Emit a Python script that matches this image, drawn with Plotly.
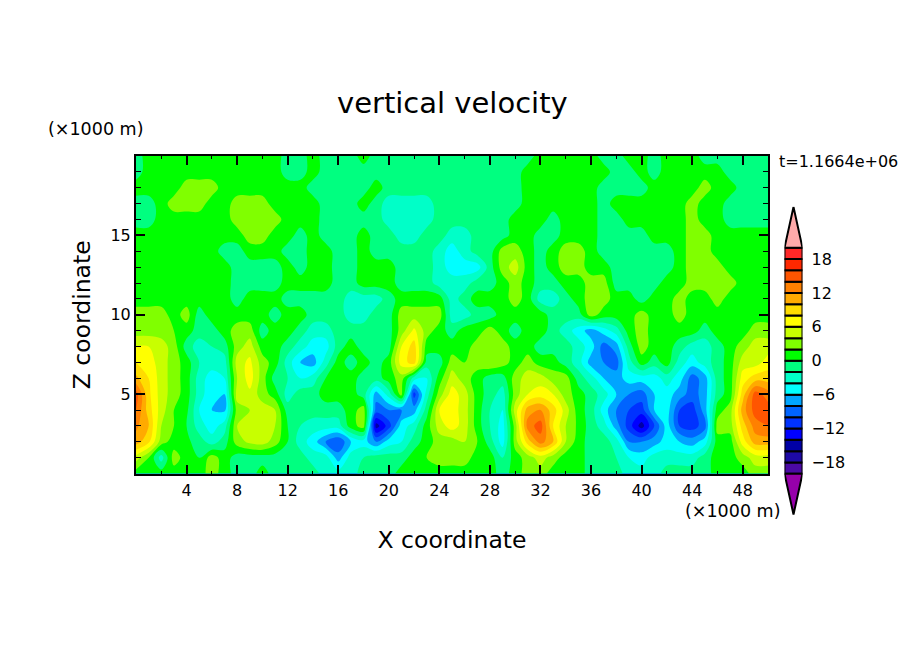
import plotly.graph_objects as go

W, H = 904, 654
x_km = list(range(0,51))
z_km = list(range(0,21))

w_00 = [1,1,1,1,1,1,3,1,-1,-1,1,-1,-1,-1,-1,-3,-3,-3,-1,-1,-1,1,1,1,1, 1,1,1,1,-1,1,3,3,1,1,1,-1,-1,-1,-3,-3,-3,-1,-1,-1,-1,1,1,1,3,3]
w_01 = [5,2,-3,3,1,0,3,1,-1,-1,-1,-1,-1,-1,-3,-3,-7,-3,-2,-1,-1,-1,1,2,3, 3,3,1,1,-2,1,3,5,3,1,1,-1,-1,-2,-4,-5,-3,-3,-3,-3,-1,1,1,3,5,5]
w_02 = [11,8.5,3,1,0.5,-1,-3,-1,3,4.5,5,3,0,-3,-5,-8,-10,-6,-5,-8,-5,-4,-1,1,3, 3,4,2,-1,-5,3,9,13,10,4,1,-1,-1,-3,-8,-8,-7,-5,-6,-7,-5,1,1,7,11,11]
w_03 = [12.5,10,4,2,0,-3,-5,-3,4,5,5,4,0,-2,-3,-3,-3,1,3,-15,-11,-5,-3,1,5, 7,5,1,-2,-5,3,13,15,8,4,1.5,-1,-3,-7,-11,-15,-10,-5,-10,-11,-9,3,3,9,13,14]
w_04 = [14,9,5,2,0.5,-4,-6,-6.5,3,4,5,4,-1,-1,-1,-1,-1,1,3,-9,-8,-8,-7,-1,6, 7,5,1,-2,-4,5,11,12,9,5,1,-1,-5,-8,-10,-11,-6,-5,-10,-11,-7,1,3,11,15,15]
w_05 = [15,8.5,5,3,1,-3,-5.5,-6,5,5.5,3,1,-3,-1,-1,1,1,1,-1,-7,-3,3,-11,-3,3, 7,5,1,-1,-3,3,6,7,6,3,1,-1,-3,-6,-8,-9,-6,-5,-7,-9,-7,-1,1,9,15,13]
w_06 = [10.5,8,5,3,1,-3,-5,-4,4,7,3,-1,-2,-4,-3,0,1,1,-1,-1,1,3,-3,-4,1, 5,3,1,-1,-1,3,5,5,3,3,-1,-3,-6,-7,-5,-5,-5,-3,-5,-9,-7,-1,1,7,9,9]
w_07 = [8,7,5,3,1,-2,-3,-3,5,6.5,3,1,-3,-6,-7,-3,1,-1,1,-1,1,7,9,-1,-1, 3,2,3,4,3,1,3,1,1,-1,-3,-7,-8,-9,-3,1,-1,1,-3,-5,-3,-1,1,5,5,7]
w_08 = [6,6,5,3,-1,-3,-2,-1,3,5,1,1,-1,-3,-5,-5,-1,1,-1,-1,-1,6,9,1,1, 1,1,3,4,3,1,1,-1,-1,-1,-3,-5,-9,-7,-1,3,1,1,-1,-3,-3,-1,1,3,5,5]
w_09 = [3,3,3,2,1,-1,-1,1,3,3,-1,1,1,-1,-3,-3,-1,-1,-1,-1,-1,3,6.5,3,1, -1,1,1,3,1,-1,1,1,-1,-3,-5,-7,-5,-3,1,3,1,1,1,1,-1,1,1,1,3,3]
w_10 = [3,3,3,1,3,-1,1,1,1,1,1,-1,1,1,-1,-1,-1,-3,-3,-1,-1,3,3,3,3, -3,-3,-1,-1,1,1,1,1,-1,-1,-1,3,1,1,1,3,1,1,3,1,1,1,1,1,1,1]
w_11 = [1,1,1,1,1,1,1,1,-1,1,1,1,-1,-1,-1,-1,-1,-3,-3,-3,-1,1,1,1,1, -3,-1,1,1,1,3,1,-3,-3,-1,1,3,3,1,1,-1,1,1,3,1,1,3,1,1,1,1]
w_12 = [1,1,1,1,1,1,1,1,-1,-1,-1,-1,1,1,1,1,-1,-1,1,1,1,-1,-1,-1,-3, -3,-3,-1,-1,1,3,1,-1,-1,1,1,3,3,-1,-1,-1,-1,1,1,3,3,3,3,1,1,1]
w_13 = [1,1,1,1,1,1,1,1,-1,-1,-1,-1,1,-1,1,1,-1,-1,1,1,1,-1,-1,-1,-3, -5,-5,-5,-1,3,5,1,-1,1,3,3,1,1,-1,-1,-1,-1,-1,1,3,3,3,1,1,1,1]
w_14 = [1,1,1,1,1,1,1,-1,-1,1,1,1,-1,-1,1,1,-1,-1,1,-1,-1,-1,-1,-1,-3, -5,-3,-1,-1,3,3,1,-1,1,3,3,1,-1,-1,-1,-1,-1,-1,1,3,3,1,1,1,1,1]
w_15 = [1,1,1,1,1,1,1,1,1,3,3,1,1,-1,1,-1,-1,-1,1,-1,-1,-3,-3,-1,-1, -3,-3,-1,-1,-1,1,1,-1,-1,1,1,1,-1,-1,-1,-1,1,1,1,3,3,1,1,1,1,1]
w_16 = [-1,-1,1,1,1,1,1,1,3,3,3,3,1,1,1,-1,-1,-1,-1,-1,-3,-3,-3,-3,-1, -1,-1,-1,-1,-1,1,1,1,-1,1,1,1,-1,-1,1,1,1,1,1,3,1,1,-1,-1,-1,-1]
w_17 = [-1,-1,1,3,3,3,1,1,3,3,3,1,1,1,1,-1,-1,-1,1,-1,-3,-3,-3,-3,-1, -1,-1,-1,-1,-1,-1,1,1,1,1,1,1,-1,1,1,1,1,1,1,3,1,1,-1,-1,-1,-1]
w_18 = [1,1,1,1,3,3,3,1,1,1,1,1,1,1,-1,-1,-1,-1,-1,1,-1,-1,-1,-1,-1, -1,-1,-1,-1,-1,-1,1,1,1,1,1,1,-1,-1,-1,-1,1,1,1,1,3,1,1,-1,-1,-1]
w_19 = [-1,1,1,1,1,1,1,1,1,1,1,1,-1,-1,1,-1,-1,-1,-1,-1,-1,-1,-1,-1,-1, -1,-1,-1,-1,-1,-1,1,1,1,1,1,1,1,-1,-1,1,-1,1,1,1,1,1,-1,-1,-1,-1]
w_20 = [-1,1,1,1,1,1,1,1,1,1,1,1,-1,-1,1,-1,-1,-1,1,-1,-1,-1,-1,-1,-1, -1,-1,-1,-1,-1,-1,-1,1,1,1,1,1,-1,-1,1,1,-1,1,1,1,-1,-1,-1,-1,-1,-1]
w_grid = [w_00,w_01,w_02,w_03,w_04,w_05,w_06,w_07,w_08,w_09,w_10,w_11,w_12,w_13,w_14,w_15,w_16,w_17,w_18,w_19,w_20]

levels = list(range(-20,20,2))
band_colors = ["#4b0aa5","#1e0aa5","#0000a5","#0000ff","#0032ff","#0064ff","#00a5ff","#00ffff","#00ffc8","#00ff80",
               "#00ff00","#80ff00","#c8ff00","#ffff00","#ffdc00","#ffaa00","#ff8000","#ff5500","#ff2800","#ff2828"]
under_color = "#9600aa"
over_color = "#ffaaaa"
tick_vals_cb = [-18,-12,-6,0,6,12,18]
tick_text_cb = ["\u221218","\u221212","\u22126","0","6","12","18"]
x_ticks = [4,8,12,16,20,24,28,32,36,40,44,48]
z_ticks = [5,10,15]

all_colors = [under_color]+band_colors+[over_color]
n = len(all_colors)
cs = []
for i,c in enumerate(all_colors):
    cs += [[i/n,c],[(i+1)/n,c]]

FONT = "DejaVu Sans"
fig = go.Figure()
fig.add_trace(go.Contour(x=x_km,y=z_km,z=w_grid,zmin=-22,zmax=22,colorscale=cs,showscale=False,
    contours=dict(start=-20,end=20,size=2,coloring="fill",showlines=False),line=dict(width=0),
    xaxis="x",yaxis="y",hoverinfo="skip"))
fig.add_trace(go.Bar(x=[0]*len(levels),y=[2]*len(levels),base=levels,width=1,marker=dict(color=band_colors,line=dict(color="black",width=2)),
    xaxis="x2",yaxis="y2",showlegend=False,hoverinfo="skip"))
fig.add_trace(go.Scatter(x=[-.5,0,.5,-.5],y=[20,27.2,20,20],mode="lines",fill="toself",fillcolor=over_color,line=dict(color="black",width=2),xaxis="x2",yaxis="y2",showlegend=False,hoverinfo="skip"))
fig.add_trace(go.Scatter(x=[-.5,0,.5,-.5],y=[-20,-27.2,-20,-20],mode="lines",fill="toself",fillcolor=under_color,line=dict(color="black",width=2),xaxis="x2",yaxis="y2",showlegend=False,hoverinfo="skip"))

def px(a,b): return [a/W,b/W]
def py(top,bot): return [1-bot/H,1-top/H]
axfont = dict(family=FONT,size=16,color="black")
minor_x = dict(dtick=2,ticks="inside",ticklen=3,tickwidth=1,tickcolor="black")
minor_y = dict(dtick=1,ticks="inside",ticklen=5,tickwidth=1,tickcolor="black")
def note(text,cx,cy,size):
    return dict(text=text,xref="paper",yref="paper",x=cx/W,y=1-cy/H,xanchor="center",yanchor="middle",showarrow=False,
                font=dict(family=FONT,size=size,color="black"))
fig.update_layout(
    width=W,height=H,margin=dict(l=0,r=0,t=0,b=0),paper_bgcolor="white",plot_bgcolor="white",showlegend=False,barmode="overlay",
    xaxis=dict(domain=px(136,768),range=[0,50],tickvals=x_ticks,ticks="inside",ticklen=9,tickwidth=2,tickcolor="black",
        showline=True,linecolor="black",linewidth=2,mirror="allticks",showgrid=False,zeroline=False,tickfont=axfont,minor=minor_x,ticklabelstandoff=1,
        title=dict(text="X coordinate",font=dict(family=FONT,size=23.5,color="black"),standoff=33)),
    yaxis=dict(domain=py(156,473.5),range=[0,20],tickvals=z_ticks,ticks="inside",ticklen=9,tickwidth=2,tickcolor="black",
        showline=True,linecolor="black",linewidth=2,mirror="allticks",showgrid=False,zeroline=False,tickfont=axfont,minor=minor_y,
        title=dict(text="Z coordinate",font=dict(family=FONT,size=23.5,color="black"),standoff=13)),
    xaxis2=dict(domain=px(784.5,802.5),range=[-.5,.5],visible=False,anchor="y2"),
    yaxis2=dict(domain=py(206.5,515),range=[-27.3,27.3],anchor="x2",side="right",tickvals=tick_vals_cb,ticktext=tick_text_cb,
        ticks="",tickfont=axfont,showline=False,showgrid=False,zeroline=False,ticklabelstandoff=8),
    annotations=[
        note("vertical velocity",452,103,29),
        note("(\u00d71000 m)",95.5,129,17.5),
        note("(\u00d71000 m)",732.5,511,17.5),
        note("t=1.1664e+06",838,161,16),
    ],
)
fig.write_html("out.html",config=dict(displayModeBar=False),post_script="document.body.style.margin='0';")
